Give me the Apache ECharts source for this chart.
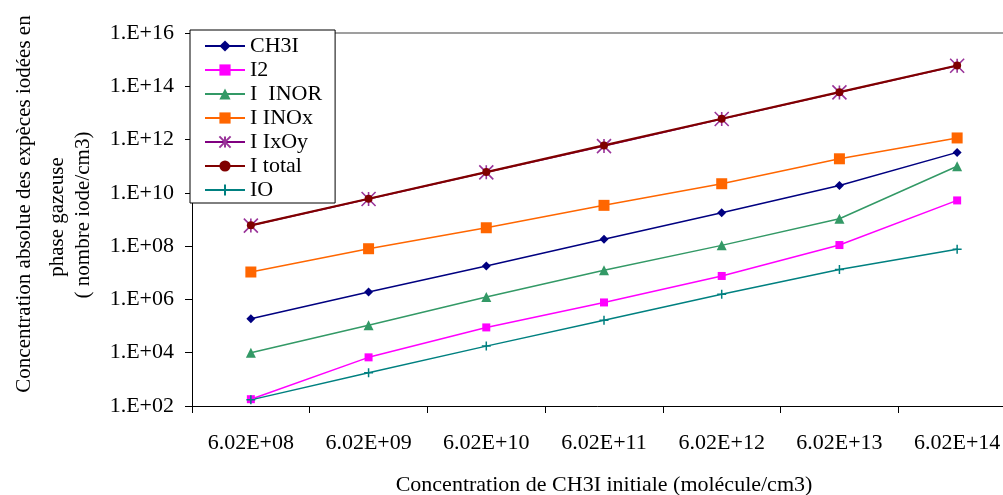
<!DOCTYPE html>
<html>
<head>
<meta charset="utf-8">
<script src="https://cdn.jsdelivr.net/npm/echarts@6/dist/echarts.min.js"></script>
<style>
html,body{margin:0;padding:0;background:#fff;overflow:hidden;}
#chart{width:1003px;height:495px;}
</style>
</head>
<body>
<div id="chart"></div>
<script>
const categories = ['6.02E+08','6.02E+09','6.02E+10','6.02E+11','6.02E+12','6.02E+13','6.02E+14'];
const ch3i   = [1.9e5, 1.9e6, 1.8e7, 1.8e8, 1.8e9, 1.9e10, 3.3e11];
const i2     = [1.8e2, 6.7e3, 8.9e4, 7.7e5, 7.6e6, 1.1e8, 5.2e9];
const inor   = [1.0e4, 1.08e5, 1.24e6, 1.24e7, 1.07e8, 1.07e9, 1.0e11];
const inox   = [1.07e7, 8.0e7, 4.9e8, 3.4e9, 2.2e10, 1.9e11, 1.15e12];
const ixoy   = [5.9e8, 5.9e9, 5.9e10, 5.7e11, 5.9e12, 5.9e13, 5.9e14];
const itotal = [6.02e8, 6.02e9, 6.02e10, 6.02e11, 6.02e12, 6.02e13, 6.02e14];
const io     = [1.7e2, 1.77e3, 1.77e4, 1.66e5, 1.57e6, 1.32e7, 7.6e7];
const seriesNames = ['CH3I', 'I2', 'I  INOR', 'I INOx', 'I IxOy', 'I total', 'IO'];
const yTitleLines = ['Concentration absolue des expèces iodées en', 'phase gazeuse', '( nombre iode/cm3)'];
const xTitle = 'Concentration de CH3I initiale (molécule/cm3)';

const FONT = '"Liberation Serif", "Times New Roman", serif';
const chart = echarts.init(document.getElementById('chart'), null, {renderer: 'canvas'});

function mk(name, data, color, symbol, size, width, extra) {
  return Object.assign({
    name: name, type: 'line', data: data,
    symbol: symbol, symbolSize: size,
    lineStyle: {color: color, width: width},
    itemStyle: {color: color, borderColor: color, borderWidth: 0},
    emphasis: {disabled: true},
    animation: false
  }, extra || {});
}

const STAR = 'path://M0,0L10,10M10,0L0,10M5,0L5,10';
const PLUS = 'path://M5,0L5,10M0,5L10,5';

const option = {
  backgroundColor: '#fff',
  animation: false,
  grid: {left: 192, top: 33, width: 824, height: 373, show: false, containLabel: false, outerBoundsMode: 'none'},
  legend: {
    orient: 'vertical', left: 190, top: 30,
    padding: [5, 13, 2, 14],
    itemWidth: 40, itemHeight: 14, itemGap: 2,
    backgroundColor: '#fff', borderColor: '#000', borderWidth: 1,
    textStyle: {fontFamily: FONT, fontSize: 22, color: '#000', lineHeight: 22},
    data: seriesNames
  },
  xAxis: [{
    type: 'category', data: categories, position: 'bottom', boundaryGap: true,
    axisLine: {lineStyle: {color: '#000', width: 1}},
    axisTick: {show: true, length: 7, lineStyle: {color: '#000'}},
    axisLabel: {fontFamily: FONT, fontSize: 22, color: '#000', margin: 26, interval: 0},
    name: xTitle, nameLocation: 'middle', nameGap: 68,
    nameTextStyle: {fontFamily: FONT, fontSize: 22, color: '#000'},
    splitLine: {show: false}
  }, {
    type: 'category', data: categories, position: 'top',
    axisLine: {lineStyle: {color: '#808080', width: 1.5}},
    axisTick: {show: false}, axisLabel: {show: false}, splitLine: {show: false}
  }],
  yAxis: {
    type: 'log', logBase: 100, min: 1e2, max: 1e16, interval: 1,
    axisLine: {show: true, lineStyle: {color: '#000', width: 1}},
    axisTick: {show: true, length: 7, lineStyle: {color: '#000'}},
    axisLabel: {
      fontFamily: FONT, fontSize: 22, color: '#000', margin: 18,
      formatter: function (v) {
        const e = Math.round(Math.log10(v));
        return '1.E+' + (e < 10 ? '0' + e : e);
      }
    },
    splitLine: {show: false}
  },
  graphic: [
    {type: 'text', x: 24, y: 204, rotation: Math.PI / 2,
     style: {text: yTitleLines[0], font: '21px ' + FONT, fill: '#000', align: 'center', verticalAlign: 'middle'}},
    {type: 'text', x: 57, y: 217, rotation: Math.PI / 2,
     style: {text: yTitleLines[1], font: '21px ' + FONT, fill: '#000', align: 'center', verticalAlign: 'middle'}},
    {type: 'text', x: 83, y: 215, rotation: Math.PI / 2,
     style: {text: yTitleLines[2], font: '21px ' + FONT, fill: '#000', align: 'center', verticalAlign: 'middle'}}
  ],
  series: [
    mk(seriesNames[0], ch3i, '#000080', 'diamond', 9, 1.5),
    mk(seriesNames[1], i2, '#FF00FF', 'rect', 8, 1.5),
    mk(seriesNames[2], inor, '#339966', 'triangle', 10, 1.5),
    mk(seriesNames[3], inox, '#FF6600', 'rect', 11, 1.5),
    mk(seriesNames[4], ixoy, '#800080', STAR, 14, 1.5,
       {itemStyle: {color: 'transparent', borderColor: '#993399', borderWidth: 1.6}}),
    mk(seriesNames[5], itotal, '#800000', 'circle', 8, 2.2),
    mk(seriesNames[6], io, '#008080', PLUS, 9, 1.5,
       {itemStyle: {color: 'transparent', borderColor: '#008080', borderWidth: 1.5}})
  ]
};
chart.setOption(option);
</script>
</body>
</html>
